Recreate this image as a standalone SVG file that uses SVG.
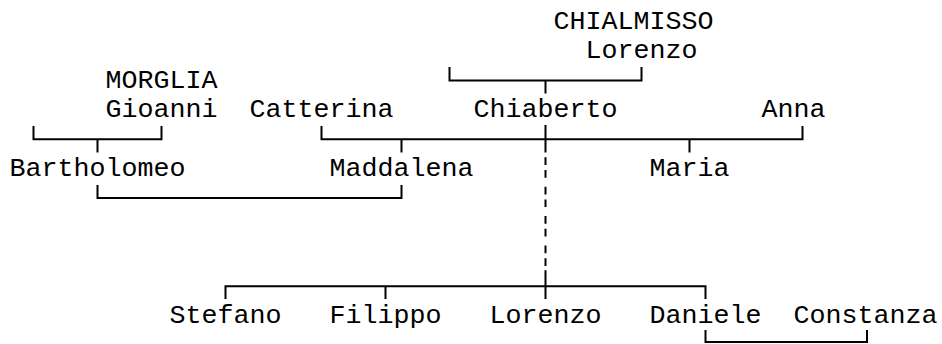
<svg xmlns="http://www.w3.org/2000/svg" width="942" height="344" viewBox="0 0 942 344">
<style>
  text { font-family: "Liberation Mono", "DejaVu Sans Mono", monospace; font-size: 26.67px; fill: #000; }
  .ln { fill: none; stroke: #000; stroke-width: 2; }
  .dash { fill: none; stroke: #000; stroke-width: 2; stroke-dasharray: 7.7 5 7.7 9; }
</style>
<rect width="942" height="344" fill="#fff"/>
<g id="connectors">
  <path class="ln" d="M449.5 67V80.5H641.5V67M545.5 80.5V93.5"/>
  <path class="ln" d="M33.5 126V139.3H161.5V126M97.5 139.3V152.6"/>
  <path class="ln" d="M321.5 126V139.3H802.5V126M401.5 139.3V152.6M689.5 139.3V152.6M545.5 125V152.6"/>
  <path class="ln" d="M97.5 185V198.1H401.5V185"/>
  <path class="dash" d="M545.5 157.3V266"/>
  <path class="ln" d="M225.5 299V286.3H705.5V299M385.5 286.3V299M545.5 270.2V299"/>
  <path class="ln" d="M705.5 330V342H867V330"/>
</g>
<g id="lorenzo-chialmisso">
  <text x="553.5" y="29">CHIALMISSO</text>
  <text x="585.5" y="58.4">Lorenzo</text>
</g>
<g id="gioanni-morglia">
  <text x="105.5" y="87.8">MORGLIA</text>
  <text x="105.5" y="117.2">Gioanni</text>
</g>
<g id="catterina"><text x="249.5" y="117.2">Catterina</text></g>
<g id="chiaberto"><text x="473.5" y="117.2">Chiaberto</text></g>
<g id="anna"><text x="761.5" y="117.2">Anna</text></g>
<g id="bartholomeo"><text x="9.5" y="176">Bartholomeo</text></g>
<g id="maddalena"><text x="329.5" y="176">Maddalena</text></g>
<g id="maria"><text x="649.5" y="176">Maria</text></g>
<g id="stefano"><text x="169.5" y="323">Stefano</text></g>
<g id="filippo"><text x="329.5" y="323">Filippo</text></g>
<g id="lorenzo"><text x="489.5" y="323">Lorenzo</text></g>
<g id="daniele"><text x="649.5" y="323">Daniele</text></g>
<g id="constanza"><text x="793.5" y="323">Constanza</text></g>
</svg>
